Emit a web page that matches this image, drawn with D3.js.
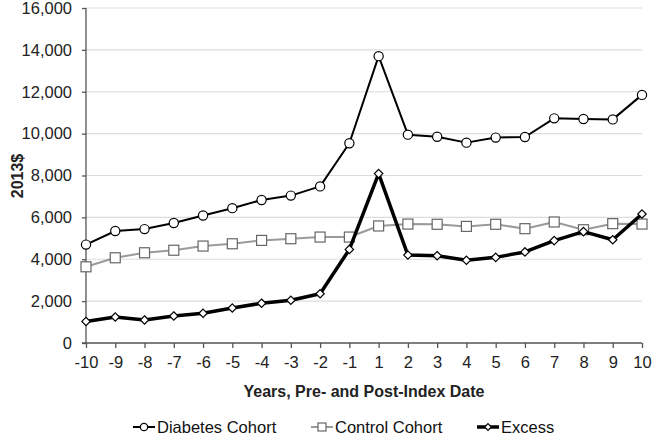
<!DOCTYPE html>
<html><head><meta charset="utf-8">
<script src="https://cdn.jsdelivr.net/npm/d3@7"></script>
<style>body{margin:0;background:#fff}svg{display:block}text{font-family:"Liberation Sans",Arial,sans-serif}</style>
</head><body><svg id="c" width="652" height="437"></svg>
<script>
const years = ["-10","-9","-8","-7","-6","-5","-4","-3","-2","-1","1","2","3","4","5","6","7","8","9","10"];
const diabetes = [4700,5350,5440,5730,6090,6440,6830,7040,7480,9540,13700,9950,9850,9570,9810,9840,10730,10700,10680,11850];
const control = [3640,4070,4310,4430,4630,4740,4900,4980,5060,5060,5590,5680,5670,5570,5670,5460,5780,5410,5700,5680];
const excess = [1030,1240,1100,1290,1420,1670,1900,2040,2350,4470,8090,4200,4170,3950,4090,4350,4890,5320,4930,6160];
const yTicks = [0,2000,4000,6000,8000,10000,12000,14000,16000];
const seriesNames = ["Diabetes Cohort","Control Cohort","Excess"];

const svg = d3.select("#c");
const x = d3.scalePoint().domain(years).range([86,642]);
const y = d3.scaleLinear().domain([0,16000]).range([343,8]);
const fmt = d3.format(",");

// gridlines
svg.append("g").selectAll("line").data(yTicks.slice(1)).join("line")
  .attr("x1",86).attr("x2",642).attr("y1",d=>y(d)).attr("y2",d=>y(d))
  .attr("stroke","#dcdcdc").attr("stroke-width",1.2);

// y axis
const ya = svg.append("g").attr("transform","translate(86,0)")
  .call(d3.axisLeft(y).tickValues(yTicks).tickFormat(fmt).tickSize(4).tickPadding(10));
ya.select(".domain").attr("stroke","#555").attr("stroke-width",1.3).attr("d","M0,343V8");
ya.selectAll(".tick line").attr("stroke","#555").attr("stroke-width",1.3);
ya.selectAll("text").attr("font-size",16.5).attr("fill","#222");

// x axis
const xa = svg.append("g").attr("transform","translate(0,343)")
  .call(d3.axisBottom(x).tickSize(5).tickPadding(8));
xa.select(".domain").attr("stroke","#555").attr("stroke-width",1.3).attr("d","M82,0H642");
xa.selectAll(".tick line").attr("stroke","#555").attr("stroke-width",1.3);
xa.selectAll("text").attr("font-size",16.5).attr("fill","#222");

// axis titles
svg.append("text").attr("transform","translate(23,176) rotate(-90)").attr("text-anchor","middle")
  .attr("font-size",16).attr("font-weight","bold").attr("fill","#222").text("2013$");
svg.append("text").attr("x",364).attr("y",397).attr("text-anchor","middle")
  .attr("font-size",16).attr("font-weight","bold").attr("fill","#222").text("Years, Pre- and Post-Index Date");

const line = d3.line().x((d,i)=>x(years[i])).y(d=>y(d));

const styles = [
  {data:diabetes, stroke:"#000", w:2, shape:"circle", mstroke:"#000"},
  {data:control, stroke:"#9a9a9a", w:2, shape:"square", mstroke:"#666"},
  {data:excess, stroke:"#000", w:3.5, shape:"diamond", mstroke:"#000"}
];

function marker(g, shape, cx, cy, mstroke, scale){
  const s = scale||1;
  if(shape==="circle") g.append("circle").attr("cx",cx).attr("cy",cy).attr("r",4.6*s)
    .attr("fill","#fff").attr("stroke",mstroke).attr("stroke-width",1.2);
  else if(shape==="square") g.append("rect").attr("x",cx-5*s).attr("y",cy-5*s).attr("width",10*s).attr("height",10*s)
    .attr("fill","#fff").attr("stroke",mstroke).attr("stroke-width",1.2);
  else { const r=4.2*s; g.append("path").attr("d",`M${cx},${cy-r}L${cx+r},${cy}L${cx},${cy+r}L${cx-r},${cy}Z`)
    .attr("fill","#fff").attr("stroke",mstroke).attr("stroke-width",1.2); }
}

[1,0,2].forEach(k=>{
  const s = styles[k];
  svg.append("path").datum(s.data).attr("d",line).attr("fill","none")
    .attr("stroke",s.stroke).attr("stroke-width",s.w).attr("stroke-linejoin","round");
  const g = svg.append("g");
  s.data.forEach((v,i)=>marker(g,s.shape,x(years[i]),y(v),s.mstroke));
});

// legend
const legX = [133,311,477];
seriesNames.forEach((n,k)=>{
  const s = styles[k];
  const g = svg.append("g");
  const lx = legX[k], ly = 427;
  g.append("line").attr("x1",lx).attr("x2",lx+22).attr("y1",ly).attr("y2",ly)
    .attr("stroke",s.stroke).attr("stroke-width",s.w);
  marker(g,s.shape,lx+11,ly,s.mstroke,0.8);
  g.append("text").attr("x",lx+24).attr("y",ly+5.5).attr("font-size",16.5).attr("fill","#111").text(n);
});
</script></body></html>
